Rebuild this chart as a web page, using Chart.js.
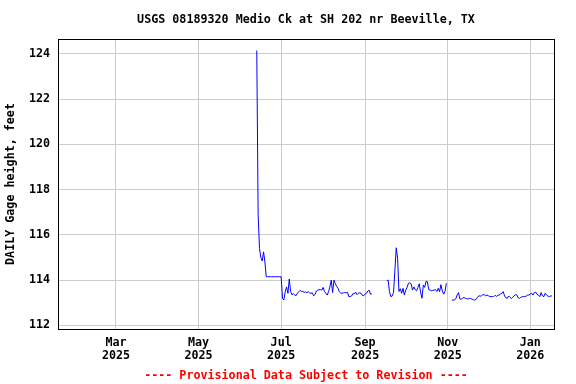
<!DOCTYPE html>
<html>
<head>
<meta charset="utf-8">
<script src="https://cdn.jsdelivr.net/npm/chart.js@4/dist/chart.umd.min.js"></script>
<style>
  html, body { margin: 0; padding: 0; background: #ffffff; }
  #wrap { width: 576px; height: 384px; }
</style>
</head>
<body>
<div id="wrap"><canvas id="c" width="576" height="384"></canvas></div>
<script>
// ---- Text ----
const chartTitle = "USGS 08189320 Medio Ck at SH 202 nr Beeville, TX";
const footerNote = "---- Provisional Data Subject to Revision ----";
const yAxisTitle = "DAILY Gage height, feet";

// ---- X axis: day numbers counted from 2025-01-01 (day 0) ----
const monthTickDays = [59, 120, 181, 243, 304, 365];
const monthTickLabels = [["Mar", "2025"], ["May", "2025"], ["Jul", "2025"], ["Sep", "2025"], ["Nov", "2025"], ["Jan", "2026"]];
const xRange = [16.2, 382.5];

// ---- Y axis ----
const yTicks = [112, 114, 116, 118, 120, 122, 124];
const yRange = [111.84, 124.66];

// ---- Daily gage height (feet), three continuous runs of daily values ----
const runStartDays = [163, 259, 307];
const run1 = [124.15, 116.9, 115.4, 115.0, 114.85, 115.25, 114.8, 114.15,
  114.15, 114.15, 114.15, 114.15, 114.15, 114.15, 114.15, 114.15, 114.15, 114.15, 114.15,
  113.2, 113.12, 113.49, 113.7, 113.42, 114.05, 113.5, 113.35, 113.4, 113.35,
  113.31, 113.42, 113.49, 113.55, 113.5, 113.5, 113.46, 113.48, 113.44, 113.49,
  113.44, 113.42, 113.44, 113.31, 113.36, 113.52, 113.55, 113.58, 113.58, 113.56,
  113.68, 113.5, 113.42, 113.34, 113.49, 113.7, 114.0, 113.45, 114.0, 113.85,
  113.72, 113.64, 113.48, 113.43, 113.42, 113.44, 113.45, 113.44, 113.46, 113.27,
  113.27, 113.3, 113.4, 113.39, 113.47, 113.36, 113.42, 113.44, 113.42, 113.32,
  113.31, 113.39, 113.42, 113.52, 113.55, 113.38, 113.39];
const run2 = [113.98, 114.0, 113.49, 113.27, 113.3, 113.45, 114.45, 115.43, 114.97, 113.5,
  113.62, 113.42, 113.64, 113.34, 113.56, 113.68, 113.86, 113.88, 113.84, 113.56,
  113.7, 113.58, 113.53, 113.68, 113.84, 113.45, 113.2, 113.78, 113.68, 113.95,
  113.93, 113.58, 113.56, 113.53, 113.55, 113.56, 113.58, 113.5, 113.64, 113.49,
  113.8, 113.53, 113.38, 113.5, 113.86];
const run3 = [113.12, 113.12, 113.12, 113.19, 113.35, 113.45, 113.16, 113.16, 113.2, 113.24,
  113.19, 113.19, 113.16, 113.2, 113.19, 113.16, 113.13, 113.12, 113.15, 113.24,
  113.31, 113.29, 113.31, 113.36, 113.35, 113.31, 113.34, 113.31, 113.28, 113.27,
  113.27, 113.27, 113.33, 113.28, 113.33, 113.34, 113.39, 113.42, 113.49, 113.3,
  113.22, 113.2, 113.3, 113.24, 113.19, 113.24, 113.3, 113.36, 113.35, 113.22,
  113.2, 113.24, 113.27, 113.27, 113.27, 113.3, 113.34, 113.34, 113.39, 113.42,
  113.34, 113.45, 113.47, 113.37, 113.34, 113.27, 113.45, 113.3, 113.27, 113.42,
  113.34, 113.3, 113.27, 113.3, 113.3];

// build points, with a null break between runs
const runs = [run1, run2, run3];
const points = [];
runs.forEach((vals, r) => {
  if (r > 0) points.push({ x: runStartDays[r] - 1, y: null });
  vals.forEach((v, i) => points.push({ x: runStartDays[r] + i, y: v }));
});

const FONT_FAMILY = '"DejaVu Sans Mono", "Liberation Mono", monospace';
const baseFont = { family: FONT_FAMILY, size: 11.7, weight: 'bold', lineHeight: 1.1 };

const frameAndText = {
  id: 'frameAndText',
  afterDraw(chart) {
    const { ctx, chartArea: a } = chart;
    ctx.save();
    ctx.strokeStyle = '#000000';
    ctx.lineWidth = 1;
    ctx.strokeRect(Math.round(a.left) + 0.5, Math.round(a.top) + 0.5,
      Math.round(a.right - a.left), Math.round(a.bottom - a.top));
    const cx = (a.left + a.right) / 2;
    ctx.font = 'bold 11.7px ' + FONT_FAMILY;
    ctx.textAlign = 'center';
    ctx.textBaseline = 'middle';
    ctx.fillStyle = '#000000';
    ctx.fillText(chartTitle, cx, 20);
    ctx.fillStyle = '#ff0000';
    ctx.fillText(footerNote, cx, 376);
    ctx.restore();
  }
};

new Chart(document.getElementById('c'), {
  type: 'line',
  data: {
    datasets: [{
      data: points,
      borderColor: '#0000ff',
      borderWidth: 1,
      pointRadius: 0,
      tension: 0,
      spanGaps: false,
      fill: false
    }]
  },
  options: {
    responsive: false,
    animation: false,
    devicePixelRatio: 1,
    layout: { padding: { top: 39, right: 22, left: 0, bottom: 0 } },
    plugins: { legend: { display: false }, title: { display: false }, tooltip: { enabled: false } },
    scales: {
      x: {
        type: 'linear',
        min: xRange[0],
        max: xRange[1],
        afterBuildTicks: s => { s.ticks = monthTickDays.map(v => ({ value: v })); },
        afterFit: s => { s.height = 55; },
        grid: { color: '#cccccc', lineWidth: 1, drawTicks: false },
        border: { display: false },
        ticks: {
          autoSkip: false, maxRotation: 0, minRotation: 0, padding: 8,
          color: '#000000', font: baseFont,
          callback: v => { const i = monthTickDays.indexOf(v); return i >= 0 ? monthTickLabels[i] : ''; }
        }
      },
      y: {
        type: 'linear',
        min: yRange[0],
        max: yRange[1],
        afterBuildTicks: s => { s.ticks = yTicks.map(v => ({ value: v })); },
        afterFit: s => { s.width = 58; },
        grid: { color: '#cccccc', lineWidth: 1, drawTicks: false },
        border: { display: false },
        ticks: { padding: 8, color: '#000000', font: baseFont, callback: v => String(v) },
        title: { display: true, text: yAxisTitle, color: '#000000', font: baseFont, padding: { top: 5, bottom: 0 } }
      }
    }
  },
  plugins: [frameAndText]
});
</script>
</body>
</html>
